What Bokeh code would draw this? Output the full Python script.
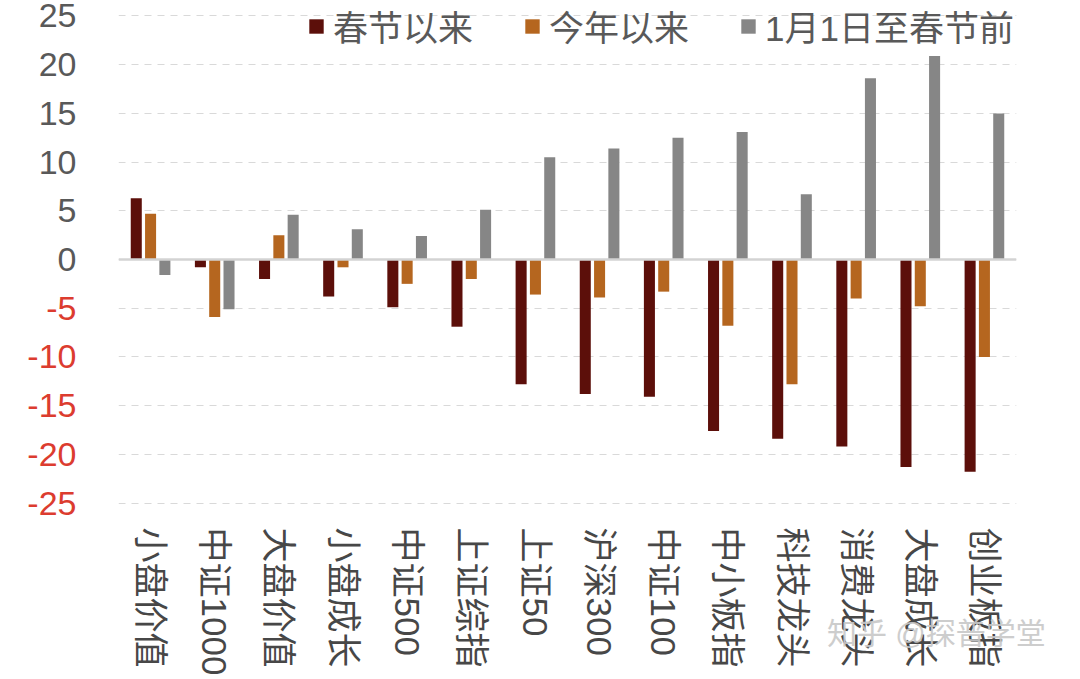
from bokeh.plotting import figure
from bokeh.layouts import row, column
from bokeh.core.properties import value
from bokeh.models import (ColumnDataSource, FactorRange, Range1d, FixedTicker, Span,
                          Legend, LegendItem, Div)
from bokeh.transform import dodge
from bokeh.embed import file_html
from bokeh.resources import INLINE

categories = ["小盘价值", "中证1000", "大盘价值", "小盘成长", "中证500", "上证综指", "上证50",
              "沪深300", "中证100", "中小板指", "科技龙头", "消费龙头", "大盘成长", "创业板指"]
since_spring = [6.3, -0.8, -2.0, -3.8, -4.9, -6.9, -12.8, -13.8, -14.1, -17.6, -18.4, -19.2, -21.3, -21.8]
since_year_start = [4.7, -5.9, 2.5, -0.8, -2.5, -2.0, -3.6, -3.9, -3.3, -6.8, -12.8, -4.0, -4.8, -10.0]
jan1_to_spring = [-1.6, -5.1, 4.6, 3.1, 2.4, 5.1, 10.5, 11.4, 12.5, 13.1, 6.7, 18.6, 20.9, 15.0]
series_names = ["春节以来", "今年以来", "1月1日至春节前"]
series_colors = ["#5c0f0a", "#b5661f", "#868686"]
y_ticks = [25, 20, 15, 10, 5, 0, -5, -10, -15, -20, -25]
y_tick_labels = [str(t) for t in y_ticks]
watermark = "知乎 @探普学堂"

FONT = "'Liberation Sans', 'Noto Sans CJK SC', sans-serif"

# layout constants (pixels)
W, H = 1080, 679
LEFT_W = 118
TOP, BOTTOM = 0, 161
Y0, Y1 = -26.59, 26.59

src = ColumnDataSource(dict(cat=categories, a=since_spring, b=since_year_start, c=jan1_to_spring))

p = figure(x_range=FactorRange(*categories), y_range=Range1d(Y0, Y1),
           width=W - LEFT_W, height=H, output_backend="svg", toolbar_location=None,
           y_axis_location=None,
           min_border_left=0, min_border_right=64, min_border_top=TOP, min_border_bottom=BOTTOM)

p.outline_line_color = None
p.xgrid.visible = False
p.ygrid.ticker = FixedTicker(ticks=y_ticks)
p.ygrid.grid_line_color = "#d9d9d9"
p.ygrid.grid_line_dash = "7 6"
p.ygrid.grid_line_width = 1

p.xaxis.axis_line_color = None
p.xaxis.major_tick_line_color = None
p.xaxis.minor_tick_line_color = None
p.xaxis.major_tick_out = 0
p.xaxis.major_tick_in = 0
p.xaxis.major_label_standoff = 9
p.xaxis.major_label_orientation = "vertical"
p.xaxis.major_label_text_font = FONT
p.xaxis.major_label_text_font_size = "35px"
p.xaxis.major_label_text_color = "#474747"

p.add_layout(Span(location=0, dimension="width", line_color="#d3d3d3", line_width=2.5))

renderers = []
for key, off, color in zip(["a", "b", "c"], [-0.223, 0.0, 0.223], series_colors):
    r = p.vbar(x=dodge("cat", off, range=p.x_range), top=key, width=0.172, source=src,
               fill_color=color, line_color=None)
    renderers.append(r)

legend = Legend(items=[LegendItem(label=n, renderers=[r]) for n, r in zip(series_names, renderers)],
                orientation="horizontal", location=(189, 467),
                label_text_font=FONT, label_text_font_size="35px", label_text_color="#595959",
                glyph_width=18, glyph_height=18, label_standoff=8, spacing=50,
                padding=0, margin=0, background_fill_alpha=0, border_line_color=None)
p.add_layout(legend, "center")

# left strip carrying the y tick labels (two colours), sharing the value scale
pl = figure(x_range=Range1d(0, LEFT_W), y_range=p.y_range,
            width=LEFT_W, height=H, output_backend="svg", toolbar_location=None,
            x_axis_location=None, y_axis_location=None,
            min_border_left=0, min_border_right=0, min_border_top=TOP, min_border_bottom=BOTTOM)
pl.outline_line_color = None
pl.grid.visible = False
tick_src = ColumnDataSource(dict(y=y_ticks, text=y_tick_labels,
                                 color=["#595959" if t >= 0 else "#dc3c2f" for t in y_ticks]))
pl.text(x=76, y="y", text="text", source=tick_src, text_color="color",
        text_align="right", text_baseline="middle",
        text_font=value(FONT), text_font_size=value("34px"))

# faint site watermark overlaid at the lower right
wm = Div(text=watermark, width=250, height=40,
         styles={"position": "absolute", "left": "822px", "top": "608px",
                 "font-family": FONT, "font-size": "30px", "color": "#c8c8c8",
                 "opacity": "0.9", "white-space": "nowrap", "pointer-events": "none",
                 "z-index": "10"})

layout = column(row(pl, p, spacing=0), wm, spacing=0)
open("out.html", "w").write(file_html(layout, INLINE))
